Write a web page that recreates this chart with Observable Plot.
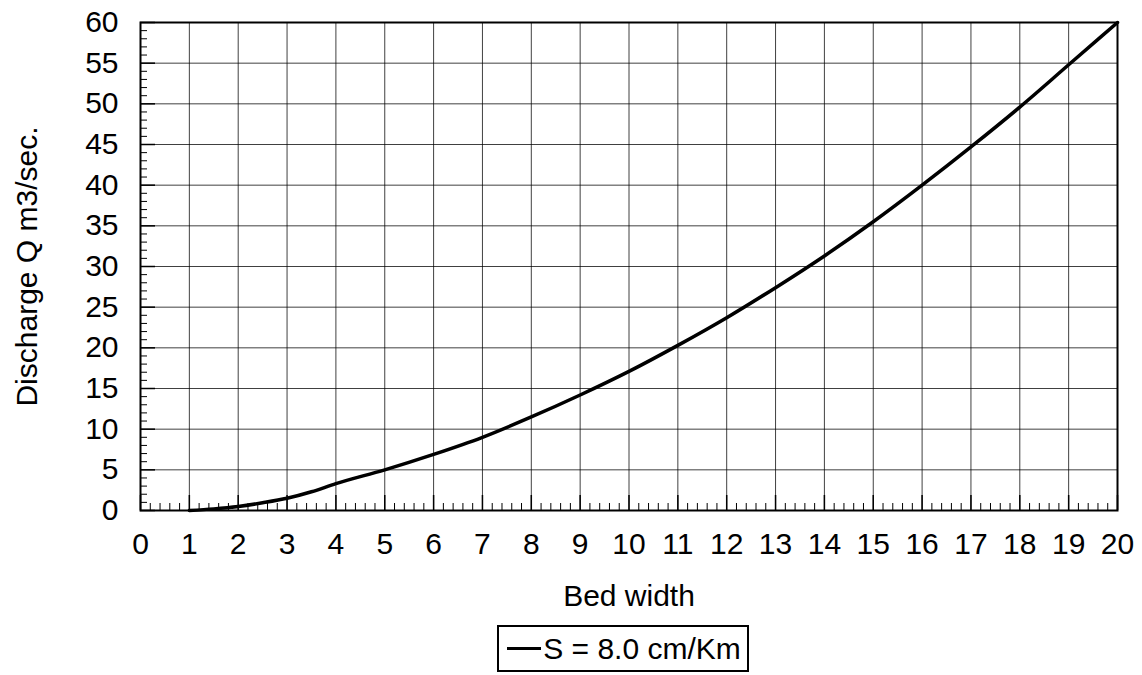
<!DOCTYPE html>
<html>
<head>
<meta charset="utf-8">
<script src="https://cdn.jsdelivr.net/npm/d3@7"></script>
<script src="https://cdn.jsdelivr.net/npm/@observablehq/plot@0.6"></script>
<style>
  html, body { margin: 0; padding: 0; background: #fff; }
  body { width: 1142px; height: 675px; overflow: hidden; font-family: "Liberation Sans", Arial, sans-serif; }
  #legend-wrap { position: absolute; left: 0; top: 625px; width: 1142px; display: flex; justify-content: center; }
  #legend { margin-left: 104px; border: 2px solid #000; height: 43px; padding: 0 6px 0 8px; display: flex; align-items: center; font-size: 30px; color: #000; }
  #legend .sw { width: 34px; height: 3px; background: #000; margin-right: 2px; }
</style>
</head>
<body>
<div id="chart"></div>
<div id="legend-wrap"><div id="legend"><span class="sw"></span><span>S = 8.0 cm/Km</span></div></div>
<script>
// Data
const bedWidth  = [1, 1.5, 2, 2.5, 3, 3.5, 4, 5, 6, 7, 8, 9, 10, 11, 12, 13, 14, 15, 16, 17, 18, 19, 20];
const discharge = [0, 0.2, 0.5, 0.95, 1.5, 2.3, 3.3, 5, 6.9, 9, 11.5, 14.2, 17.1, 20.3, 23.7, 27.4, 31.3, 35.5, 40, 44.7, 49.6, 54.8, 60];
const seriesName = "S = 8.0 cm/Km";

const xTicks = [0,1,2,3,4,5,6,7,8,9,10,11,12,13,14,15,16,17,18,19,20];
const yTicks = [0,5,10,15,20,25,30,35,40,45,50,55,60];
const xMinorTicks = d3.range(0, 100).map(i => +(i * 0.2).toFixed(1)).filter(v => v % 1 !== 0);
const yMinorTicks = d3.range(0, 60).filter(v => v % 5 !== 0);

const xLabel = "Bed width";
const yLabel = "Discharge Q m3/sec.";

const data = bedWidth.map((b, i) => ({b, q: discharge[i], s: seriesName}));

const W = 1142, H = 620, mL = 140, mR = 25, mT = 22, mB = 110;
const fw = W - mL - mR, fh = H - mT - mB;

const plot = Plot.plot({
  width: W, height: H,
  marginLeft: mL, marginRight: mR, marginTop: mT, marginBottom: mB,
  style: {fontFamily: "Liberation Sans, Arial, sans-serif", fontSize: "30px", color: "#000", background: "#fff", overflow: "visible"},
  x: {domain: [0, 20]},
  y: {domain: [0, 60]},
  marks: [
    Plot.gridX(xTicks.slice(1, -1), {stroke: "#000", strokeOpacity: 0.75, strokeWidth: 1}),
    Plot.gridY(yTicks.slice(1, -1), {stroke: "#000", strokeOpacity: 0.75, strokeWidth: 1}),
    Plot.tickX(xMinorTicks, {x: d => d, stroke: "#000", strokeWidth: 1, insetTop: fh - 7}),
    Plot.tickY(yMinorTicks, {y: d => d, stroke: "#000", strokeWidth: 1, insetRight: fw - 7}),
    Plot.tickX(xTicks, {x: d => d, stroke: "#000", strokeWidth: 1.5, insetTop: fh - 15}),
    Plot.tickY(yTicks, {y: d => d, stroke: "#000", strokeWidth: 1.5, insetRight: fw - 15}),
    Plot.axisX({ticks: xTicks, tickSize: 0, tickPadding: 22, label: null, tickFormat: d => d}),
    Plot.axisY({ticks: yTicks, tickSize: 0, tickPadding: 22, label: null, tickFormat: d => d}),
    Plot.text([xLabel], {text: d => d, frameAnchor: "bottom", dy: 86, fontSize: 30, lineAnchor: "middle"}),
    Plot.text([yLabel], {text: d => d, frameAnchor: "left", dx: -113, rotate: -90, fontSize: 30, lineAnchor: "middle", textAnchor: "middle"}),
    Plot.line(data, {x: "b", y: "q", stroke: "#000", strokeWidth: 3.5, curve: "monotone-x"}),
    Plot.frame({stroke: "#000", strokeWidth: 2})
  ]
});
document.getElementById("chart").appendChild(plot);
</script>
</body>
</html>
